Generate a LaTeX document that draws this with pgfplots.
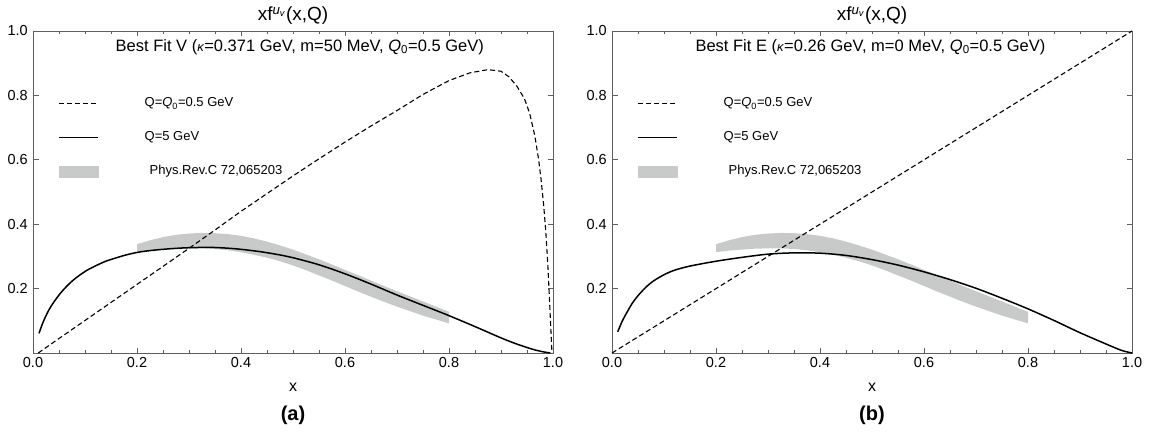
\documentclass[border=0pt]{standalone}
\usepackage{fontspec}
\setmainfont{Liberation Sans}
\usepackage{pgfplots}
\pgfplotsset{compat=1.18}
\usepackage{pgfplotstable}

\definecolor{bandgray}{RGB}{200,201,201}
\definecolor{framegray}{RGB}{95,95,95}

% Q = Q0 curve, fit V
\pgfplotstableread{
x y
0.010 0.000
0.050 0.045
0.100 0.101
0.150 0.157
0.200 0.213
0.250 0.269
0.300 0.325
0.350 0.382
0.400 0.440
0.450 0.495
0.500 0.550
0.550 0.603
0.600 0.655
0.650 0.705
0.700 0.753
0.750 0.803
0.800 0.846
0.840 0.870
0.875 0.880
0.900 0.875
0.915 0.858
0.930 0.830
0.945 0.790
0.955 0.745
0.965 0.675
0.972 0.605
0.977 0.540
0.982 0.460
0.986 0.380
0.990 0.275
0.993 0.175
0.996 0.070
0.998 0.000
}\dashV

% Q = 5 GeV, fit V
\pgfplotstableread{
x y
0.0115 0.061
0.020 0.098
0.030 0.132
0.040 0.158
0.050 0.180
0.060 0.199
0.075 0.223
0.090 0.242
0.105 0.258
0.122 0.272
0.140 0.285
0.161 0.296
0.180 0.305
0.2025 0.313
0.225 0.318
0.250 0.322
0.275 0.325
0.300 0.327
0.340 0.328
0.370 0.326
0.400 0.322
0.440 0.314
0.480 0.303
0.500 0.296
0.550 0.274
0.600 0.246
0.650 0.214
0.700 0.180
0.750 0.148
0.800 0.116
0.850 0.082
0.900 0.047
0.930 0.028
0.960 0.012
0.980 0.004
0.995 0.000
}\solidV

% Q = Q0 curve, fit E
\pgfplotstableread{
x y
0 0
1 1
}\dashE

% Q = 5 GeV, fit E
\pgfplotstableread{
x y
0.011 0.066
0.020 0.100
0.030 0.130
0.040 0.157
0.050 0.178
0.065 0.204
0.080 0.224
0.100 0.243
0.120 0.257
0.150 0.270
0.200 0.285
0.250 0.297
0.300 0.307
0.350 0.311
0.400 0.310
0.450 0.303
0.500 0.290
0.550 0.273
0.600 0.252
0.650 0.228
0.700 0.201
0.750 0.170
0.800 0.137
0.850 0.101
0.900 0.063
0.950 0.028
0.980 0.008
1.000 0.000
}\solidE

% Phys.Rev.C 72,065203 band: upper edge left to right, lower edge back
\pgfplotstableread{
x y
0.200 0.338
0.225 0.350
0.250 0.360
0.275 0.367
0.300 0.371
0.325 0.373
0.350 0.372
0.375 0.369
0.400 0.364
0.425 0.356
0.450 0.346
0.475 0.334
0.500 0.321
0.525 0.306
0.550 0.291
0.575 0.275
0.600 0.258
0.625 0.242
0.650 0.225
0.675 0.208
0.700 0.192
0.725 0.176
0.750 0.160
0.775 0.144
0.800 0.128
0.800 0.092
0.775 0.104
0.750 0.116
0.725 0.130
0.700 0.144
0.675 0.159
0.650 0.175
0.625 0.191
0.600 0.208
0.575 0.225
0.550 0.241
0.525 0.257
0.500 0.272
0.475 0.285
0.450 0.296
0.425 0.305
0.400 0.313
0.375 0.319
0.350 0.323
0.325 0.325
0.300 0.325
0.275 0.324
0.250 0.321
0.225 0.318
0.200 0.313
}\band

\pgfplotsset{
  panel/.style={
    width=520pt, height=322pt, scale only axis,
    anchor=south west,
    xmin=0, xmax=1, ymin=0, ymax=1,
    xtick={0,0.2,0.4,0.6,0.8,1},
    ytick={0.2,0.4,0.6,0.8,1},
    minor x tick num=3,
    tick align=inside,
    major tick length=5.5pt, minor tick length=3pt,
    axis line style={framegray, line width=0.7pt},
    every tick/.style={framegray, line width=0.6pt},
    tick label style={font=\fontsize{14.5}{17}\selectfont, inner sep=0pt,
      /pgf/number format/fixed, /pgf/number format/fixed zerofill,
      /pgf/number format/precision=1, /pgf/number format/assume math mode=true},
    xticklabel shift=4pt, yticklabel shift=5pt,
    xlabel={x},
    xlabel style={at={(axis description cs:0.5,0)}, anchor=center, yshift=-34pt,
      font=\fontsize{16}{18}\selectfont},
    title={xf\textsuperscript{\textit{u}\textsubscript{\textit{v}}}(x,Q)},
    title style={at={(axis description cs:0.5,1)}, anchor=center, yshift=9pt,
      font=\fontsize{19}{22}\selectfont},
    clip=false,
    legend image code/.code={\draw[#1] (0pt,0pt) -- (39pt,0pt);},
    legend cell align=left,
    legend style={at={(0.048,0.7962)}, anchor=north west, draw=none, fill=none,
      inner sep=0pt, row sep=21pt, column sep=46pt,
      font=\fontsize{13}{15}\selectfont,
      nodes={inner sep=0pt, text height=10pt, text depth=3pt}},
  },
  dashcurve/.style={black, mark=none, line width=1.1pt, dash pattern=on 5pt off 3pt},
  solidcurve/.style={black, mark=none, line width=1.5pt, smooth},
  bandkey/.style={legend image code/.code={\fill[bandgray] (0pt,-5.5pt) rectangle (39pt,5.5pt);}},
}
\newcommand{\kap}{{\fontsize{13}{15}\selectfont\textit{κ}}}

\begin{document}
\begin{tikzpicture}
\useasboundingbox (-33pt,-91pt) rectangle (1117pt,353pt);

\begin{axis}[panel, at={(0pt,0pt)}]
  \addplot[forget plot, fill=bandgray, draw=none] table {\band};
  \addplot[dashcurve] table {\dashV};
  \addlegendentry{Q=\textit{Q}\textsubscript{0}=0.5 GeV}
  \addplot[solidcurve] table {\solidV};
  \addlegendentry{Q=5 GeV}
  \addlegendimage{bandkey}
  \addlegendentry{\hspace*{5pt}Phys.Rev.C 72,065203}
  \node[font=\fontsize{16.5}{19}\selectfont] at (rel axis cs:0.513,0.95)
    {Best Fit V (\kap=0.371 GeV, m=50 MeV, \textit{Q}\textsubscript{0}=0.5 GeV)};
  \node[font=\bfseries\fontsize{20}{22}\selectfont, yshift=-62pt] at (rel axis cs:0.5,0) {(a)};
\end{axis}

\begin{axis}[panel, at={(579pt,0pt)}]
  \addplot[forget plot, fill=bandgray, draw=none] table {\band};
  \addplot[dashcurve] table {\dashE};
  \addlegendentry{Q=\textit{Q}\textsubscript{0}=0.5 GeV}
  \addplot[solidcurve] table {\solidE};
  \addlegendentry{Q=5 GeV}
  \addlegendimage{bandkey}
  \addlegendentry{\hspace*{5pt}Phys.Rev.C 72,065203}
  \node[font=\fontsize{16.5}{19}\selectfont] at (rel axis cs:0.497,0.95)
    {Best Fit E (\kap=0.26 GeV, m=0 MeV, \textit{Q}\textsubscript{0}=0.5 GeV)};
  \node[font=\bfseries\fontsize{20}{22}\selectfont, yshift=-62pt] at (rel axis cs:0.5,0) {(b)};
\end{axis}
\end{tikzpicture}
\end{document}
